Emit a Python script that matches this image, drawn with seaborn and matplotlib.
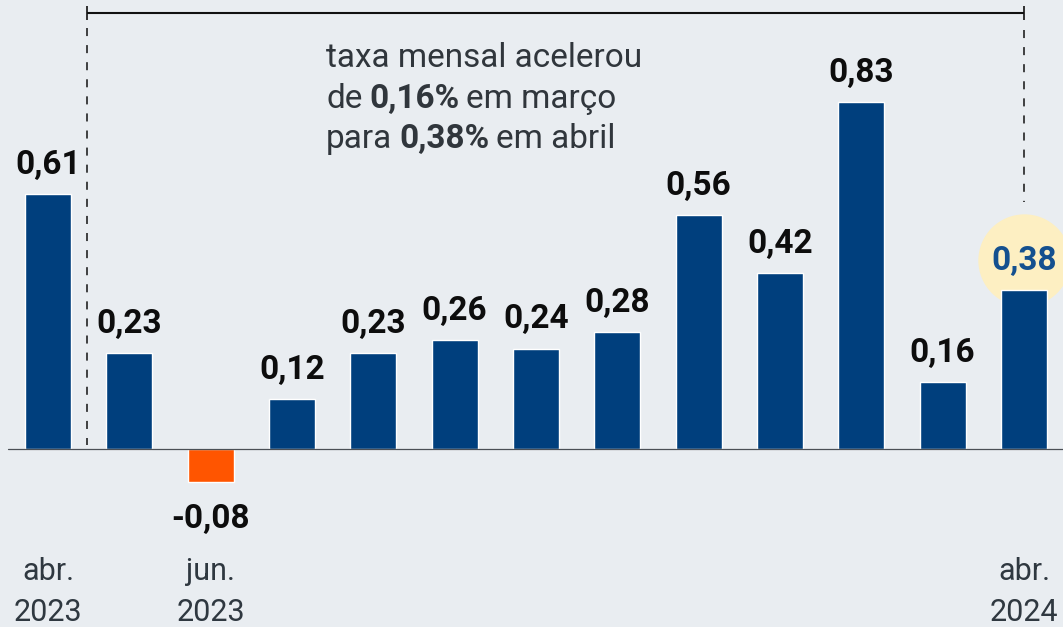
import matplotlib
matplotlib.use("Agg")
import matplotlib.pyplot as plt
import seaborn as sns
import pandas as pd

# Monthly IPCA-style rates, Apr/2023 to Apr/2024 (%)
months = ["abr/23", "mai/23", "jun/23", "jul/23", "ago/23", "set/23", "out/23",
          "nov/23", "dez/23", "jan/24", "fev/24", "mar/24", "abr/24"]
rates = [0.61, 0.23, -0.08, 0.12, 0.23, 0.26, 0.24, 0.28, 0.56, 0.42, 0.83, 0.16, 0.38]

# Bottom axis labels (only a few months are named)
tick_idx = [0, 2, 12]
tick_top = ["abr.", "jun.", "abr."]
tick_bottom = ["2023", "2023", "2024"]

note_lines = [
    [("taxa mensal acelerou", "normal")],
    [("de", "normal"), ("0,16%", "bold"), ("em março", "normal")],
    [("para", "normal"), ("0,38%", "bold"), ("em abril", "normal")],
]

BG = "#e9edf1"
BLUE = "#003f7d"
ORANGE = "#ff5500"
HILITE = "#fdefc2"
LABEL_BLUE = "#14508f"
TEXT_DARK = "#30363c"

sns.set_theme(style="white")
plt.rcParams["font.family"] = ["Roboto", "DejaVu Sans"]
plt.rcParams["lines.scale_dashes"] = False

W, H = 1063, 627
fig = plt.figure(figsize=(W / 100, H / 100), dpi=100, facecolor=BG)
ax = fig.add_axes([0, 0, 1, 1])
ax.set_facecolor(BG)

df = pd.DataFrame({"mes": months, "taxa": rates})
colors = {m: (ORANGE if v < 0 else BLUE) for m, v in zip(months, rates)}

# highlight disc behind the latest value
last = len(rates) - 1
ax.scatter([last], [0.452], s=(66.5) ** 2, color=HILITE, zorder=0.5, linewidths=0)

sns.barplot(data=df, x="mes", y="taxa", hue="mes", palette=colors, width=0.565,
            legend=False, ax=ax, zorder=2, saturation=1)

ax.set_xlim(-0.59, 12.48)
ax.set_ylim(-0.426, 1.074)
for s in ax.spines.values():
    s.set_visible(False)
ax.set_xticks([])
ax.set_yticks([])
ax.set_xlabel("")
ax.set_ylabel("")

# zero line
ax.axhline(0, xmin=8 / W, xmax=1, color="#4a4f55", lw=0.9, zorder=3)

# value labels
for i, v in enumerate(rates):
    txt = f"{v:.2f}".replace(".", ",")
    col = LABEL_BLUE if i == last else "#0d0d0d"
    off = 14.5 if v >= 0 else -33
    ax.annotate(txt, (i, v), xytext=(0, off), textcoords="offset points",
                ha="center", va="baseline", fontsize=24, fontweight="bold",
                color=col, zorder=4)

# month labels
xt = ax.get_xaxis_transform()
for i, a, b in zip(tick_idx, tick_top, tick_bottom):
    ax.text(i, 1 - 580 / H, a, transform=xt, ha="center",
            va="baseline", fontsize=22, color="#2f3840")
    ax.text(i, 1 - 621 / H, b, transform=xt, ha="center",
            va="baseline", fontsize=22, color="#2f3840")

# bracket spanning the 12-month window
def yf(py):
    return 1 - py / H

ax.plot([0.48, 12], [yf(13), yf(13)], transform=xt, color="#111111", lw=1.5,
        clip_on=False, solid_capstyle="butt")
for xx in (0.48, 12):
    ax.plot([xx, xx], [yf(6), yf(20)], transform=xt, color="#111111", lw=1.2,
            clip_on=False, solid_capstyle="butt")
ax.plot([0.48, 0.48], [yf(28), yf(445)], transform=xt, color="#111111", lw=1.1,
        ls=(0, (5.8, 6.5)))
ax.plot([12, 12], [yf(30), yf(202)], transform=xt, color="#111111", lw=1.1,
        ls=(0, (5.8, 6.5)))

# annotation with mixed weights
fig.canvas.draw()
renderer = fig.canvas.get_renderer()
fs = 24
space_px = 0.2 * fs * 100 / 72
baselines = [67, 108, 148]
for line, by in zip(note_lines, baselines):
    x = 326
    for s, w in line:
        t = fig.text(x / W, 1 - by / H, s, fontsize=fs, fontweight=w,
                     color=TEXT_DARK, va="baseline", ha="left")
        bb = t.get_window_extent(renderer)
        x = bb.x1 + space_px

fig.savefig("out.png", dpi=100, facecolor=BG)
